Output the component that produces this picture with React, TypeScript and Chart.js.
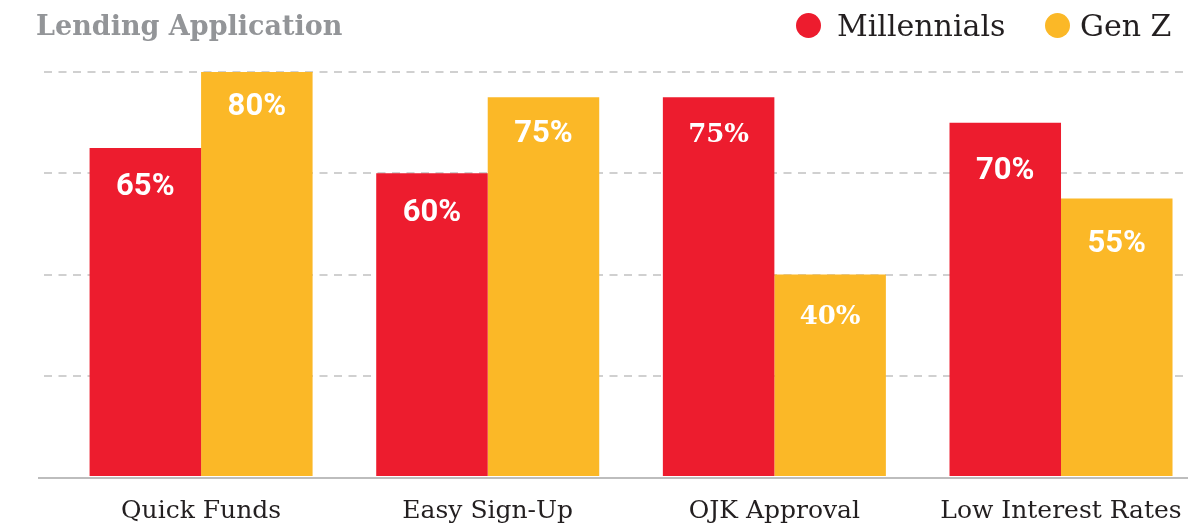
import React, { useEffect, useRef } from "react";
import { Chart, registerables } from "chart.js";

Chart.register(...registerables);

const categories = ["Quick Funds", "Easy Sign-Up", "OJK Approval", "Low Interest Rates"];
const millennials = [65, 60, 75, 70];
const genZ = [80, 75, 40, 55];
const seriesNames = ["Millennials", "Gen Z"];
const yTicks = [0, 20, 40, 60, 80];

// styling: distance (px) from each bar's top to its value label baseline
const labelBaselineDy = [
  [47, 48, 45, 56],
  [43, 45, 49, 53],
];
// styling: value-label font per category
const labelFonts = ["bold 31px Roboto", "bold 31px Roboto", "bold 26px 'DejaVu Serif'", "bold 31px Roboto"];

const RED = "#ED1C2E";
const YELLOW = "#FBB827";
const SERIF = "'DejaVu Serif', serif";

export default function App() {
  const ref = useRef<HTMLCanvasElement | null>(null);

  useEffect(() => {
    document.body.style.margin = "0";
    const canvas = ref.current;
    if (!canvas) return;

    const labelPlugin = {
      id: "barLabels",
      afterDatasetsDraw(chart: any) {
        const ctx = chart.ctx;
        ctx.save();
        ctx.fillStyle = "#ffffff";
        ctx.textAlign = "center";
        ctx.textBaseline = "alphabetic";
        chart.data.datasets.forEach((ds: any, di: number) => {
          const meta = chart.getDatasetMeta(di);
          meta.data.forEach((el: any, i: number) => {
            const v = ds.data[i].y;
            ctx.font = labelFonts[i];
            ctx.fillText(v + "%", el.x, el.y + labelBaselineDy[di][i]);
          });
        });
        ctx.restore();
      },
    };

    const baselinePlugin = {
      id: "baseline",
      afterDatasetsDraw(chart: any) {
        const ctx = chart.ctx;
        const y = chart.scales.y.getPixelForValue(0);
        ctx.save();
        ctx.strokeStyle = "#bdbdbd";
        ctx.lineWidth = 2;
        ctx.beginPath();
        ctx.moveTo(38, y + 1);
        ctx.lineTo(chart.width, y + 1);
        ctx.stroke();
        ctx.restore();
      },
    };

    const chart = new Chart(canvas, {
      type: "bar",
      data: {
        datasets: [
          {
            label: seriesNames[0],
            data: millennials.map((v, i) => ({ x: i, y: v })),
            backgroundColor: RED,
            borderWidth: 0,
          },
          {
            label: seriesNames[1],
            data: genZ.map((v, i) => ({ x: i, y: v })),
            backgroundColor: YELLOW,
            borderWidth: 0,
          },
        ],
      },
      options: {
        responsive: false,
        animation: false,
        events: [],
        categoryPercentage: 0.778,
        barPercentage: 1,
        layout: { autoPadding: false, padding: { left: 44, right: 0, top: 72, bottom: 0 } },
        plugins: {
          legend: { display: false },
          tooltip: { enabled: false },
          title: { display: false },
        },
        scales: {
          x: {
            type: "linear",
            min: -0.548,
            max: 3.443,
            offset: false,
            grid: { display: false, drawTicks: false, offset: false },
            border: { display: false },
            afterFit: (s: any) => {
              s.height = 54;
              s.paddingLeft = 0;
              s.paddingRight = 0;
            },
            ticks: {
              stepSize: 1,
              includeBounds: false,
              autoSkip: false,
              maxRotation: 0,
              padding: 19,
              color: "#231F20",
              font: { family: SERIF, size: 25 },
              callback: (v: any) => categories[v] ?? "",
            },
          },
          y: {
            min: 0,
            max: 80,
            afterFit: (s: any) => {
              s.width = 0;
              s.paddingTop = 0;
              s.paddingBottom = 0;
            },
            afterBuildTicks: (s: any) => {
              s.ticks = yTicks.map((v) => ({ value: v }));
            },
            ticks: { display: false },
            border: { display: false, dash: [8, 6.5] },
            grid: {
              drawTicks: false,
              lineWidth: 2,
              color: (c: any) => (c.tick && c.tick.value === 0 ? "rgba(0,0,0,0)" : "#d0d0d0"),
            },
          },
        },
      } as any,
      plugins: [labelPlugin, baselinePlugin],
    });
    return () => chart.destroy();
  }, []);

  return (
    <div style={{ position: "relative", width: 1188, height: 531, overflow: "hidden", background: "#fff" }}>
      <canvas ref={ref} width={1188} height={531} style={{ position: "absolute", left: 0, top: 0 }} />
      <div
        style={{
          position: "absolute",
          left: 36,
          top: 6,
          fontFamily: SERIF,
          fontWeight: "bold",
          fontSize: 27,
          lineHeight: "40px",
          color: "#939598",
          whiteSpace: "nowrap",
        }}
      >
        Lending Application
      </div>
      <div style={{ position: "absolute", left: 796, top: 13, width: 25, height: 25, borderRadius: "50%", background: RED }} />
      <div
        style={{
          position: "absolute",
          left: 837,
          top: 6,
          fontFamily: SERIF,
          fontSize: 30,
          lineHeight: "40px",
          color: "#231F20",
          whiteSpace: "nowrap",
        }}
      >
        {seriesNames[0]}
      </div>
      <div style={{ position: "absolute", left: 1045, top: 13, width: 25, height: 25, borderRadius: "50%", background: YELLOW }} />
      <div
        style={{
          position: "absolute",
          left: 1080,
          top: 6,
          fontFamily: SERIF,
          fontSize: 30,
          lineHeight: "40px",
          color: "#231F20",
          whiteSpace: "nowrap",
        }}
      >
        {seriesNames[1]}
      </div>
    </div>
  );
}
